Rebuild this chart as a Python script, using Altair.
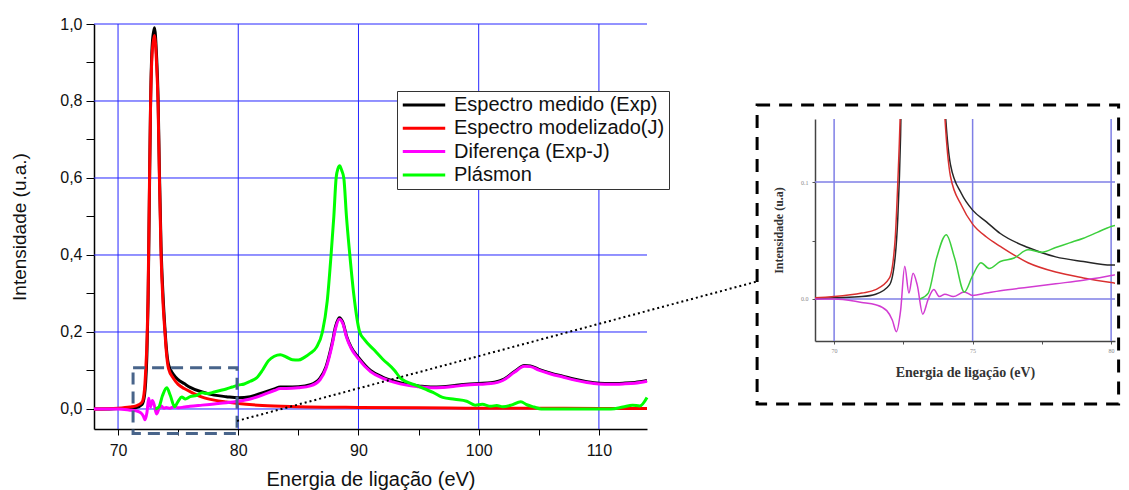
import altair as alt
import pandas as pd

# ---------------- data ----------------
series = ["Espectro medido (Exp)", "Espectro modelizado(J)", "Diferença (Exp-J)", "Plásmon"]
colors = ["#000000", "#ff0000", "#ff00ff", "#00ff00"]
inset_colors = ["#262626", "#d93030", "#d23cd2", "#3ccf3c"]

exp_x = [68, 69, 70, 71, 71.5, 72.0, 72.2, 72.3, 72.4, 72.5, 72.6, 72.7, 72.85, 73.03, 73.2, 73.33,
         73.44, 73.58, 73.75, 73.9, 74.0, 74.2, 74.6, 75.0, 75.5, 76, 77, 78, 79, 80, 81, 82, 83,
         83.5, 84, 85, 86, 86.8, 87.3, 87.8, 88.1, 88.4, 88.7, 89.0, 89.4, 90, 91, 92, 93, 94, 95,
         96, 97, 98, 99, 100, 101, 102, 103, 103.8, 104.3, 105, 106, 107, 108, 109, 110, 111, 112,
         113, 114]
exp_y = [0.0, 0.0, 0.001, 0.002, 0.004, 0.012, 0.035, 0.07, 0.14, 0.28, 0.53, 0.78, 0.95, 0.99,
         0.92, 0.81, 0.62, 0.42, 0.29, 0.21, 0.165, 0.115, 0.09, 0.076, 0.066, 0.056, 0.044, 0.036,
         0.032, 0.029, 0.032, 0.042, 0.052, 0.057, 0.057, 0.058, 0.063, 0.08, 0.11, 0.17, 0.215,
         0.237, 0.225, 0.19, 0.16, 0.134, 0.1, 0.083, 0.072, 0.064, 0.06, 0.057, 0.058, 0.061,
         0.064, 0.066, 0.068, 0.076, 0.098, 0.113, 0.112, 0.103, 0.093, 0.085, 0.077, 0.071, 0.067,
         0.066, 0.067, 0.069, 0.074]

mod_x = [68, 70, 71, 71.5, 72.0, 72.2, 72.3, 72.4, 72.5, 72.6, 72.7, 72.85, 73.03, 73.2, 73.33,
         73.44, 73.58, 73.75, 73.9, 74.0, 74.2, 74.6, 75.0, 75.5, 76, 77, 78, 79, 80, 82, 85, 90,
         95, 100, 105, 110, 114]
mod_y = [0.0, 0.002, 0.005, 0.008, 0.018, 0.05, 0.1, 0.17, 0.3, 0.55, 0.78, 0.93, 0.97, 0.9, 0.79,
         0.6, 0.4, 0.27, 0.2, 0.155, 0.105, 0.08, 0.064, 0.053, 0.045, 0.031, 0.023, 0.018, 0.014,
         0.009, 0.006, 0.004, 0.003, 0.002, 0.002, 0.001, 0.001]

dif_x = [68, 70, 71, 71.5, 71.9, 72.1, 72.25, 72.4, 72.55, 72.7, 72.85, 73.0, 73.2, 73.4, 73.6,
         73.8, 74.0, 74.3, 74.7, 75.0, 75.5, 76, 77, 78, 79, 80, 81, 82, 83, 83.5, 84, 85, 86, 86.8,
         87.3, 87.8, 88.1, 88.4, 88.7, 89.0, 89.4, 90, 91, 92, 93, 94, 95, 96, 97, 98, 99, 100, 101,
         102, 103, 103.8, 104.3, 105, 106, 107, 108, 109, 110, 111, 112, 113, 114]
dif_y = [0.0, 0.0, -0.003, -0.005, -0.01, -0.018, -0.028, -0.01, 0.028, 0.005, 0.022, 0.012,
         -0.013, 0.0, 0.008, 0.002, 0.004, 0.002, 0.006, 0.003, 0.005, 0.007, 0.01, 0.013, 0.016,
         0.02, 0.026, 0.036, 0.048, 0.053, 0.053, 0.055, 0.06, 0.076, 0.106, 0.165, 0.21, 0.233,
         0.222, 0.187, 0.157, 0.13, 0.097, 0.08, 0.069, 0.062, 0.058, 0.055, 0.056, 0.059, 0.062,
         0.064, 0.066, 0.074, 0.096, 0.111, 0.11, 0.101, 0.091, 0.083, 0.075, 0.069, 0.065, 0.064,
         0.065, 0.067, 0.072]

pla_x = [73.1, 73.4, 73.7, 74.05, 74.35, 74.7, 75.0, 75.3, 75.6, 76, 76.5, 77, 77.5, 78, 78.5, 79,
         79.5, 80, 80.5, 81, 81.5, 82, 82.5, 83, 83.5, 84, 84.5, 85, 85.5, 86, 86.5, 87.0, 87.4,
         87.72, 87.95, 88.14, 88.3, 88.44, 88.6, 88.78, 89.0, 89.28, 89.6, 90.1, 90.5, 91.25, 92,
         93, 93.5, 94.9, 95.5, 96.2, 97, 98, 99, 99.7, 100.3, 101, 101.5, 102, 102.7, 103.5, 104,
         104.6, 105.2, 111, 112, 112.8, 113.4, 114]
pla_y = [0.0, 0.005, 0.035, 0.055, 0.035, 0.006, 0.02, 0.031, 0.026, 0.032, 0.035, 0.042, 0.04,
         0.044, 0.048, 0.052, 0.057, 0.062, 0.065, 0.072, 0.08, 0.1, 0.125, 0.137, 0.141, 0.135,
         0.128, 0.127, 0.134, 0.145, 0.16, 0.2, 0.28, 0.4, 0.5, 0.6, 0.625, 0.632, 0.62, 0.6, 0.5,
         0.4, 0.3, 0.2, 0.18, 0.155, 0.13, 0.1, 0.08, 0.06, 0.052, 0.043, 0.03, 0.025, 0.02, 0.01,
         0.012, 0.007, 0.009, 0.006, 0.01, 0.019, 0.011, 0.005, 0.0, 0.0, 0.005, 0.01, 0.008, 0.03]

# main axes / grid
x_domain = [68, 114]
y_domain = [-0.052, 1.0]
x_ticks = [70, 75, 80, 85, 90, 95, 100, 105, 110]
y_ticks = [0.0, 0.1, 0.2, 0.3, 0.4, 0.5, 0.6, 0.7, 0.8, 0.9, 1.0]
grid_x = [70, 80, 90, 100, 110]
grid_y = [0.0, 0.2, 0.4, 0.6, 0.8, 1.0]

# zoom region marked on the main plot, and connector toward the inset
zoom_box = {"x0": [71.25], "x1": [79.9], "y0": [-0.064], "y1": [0.107]}
connector = {"x0": [79.9], "x1": [123.25], "y0": [-0.031], "y1": [0.332]}

# inset (zoomed view of 69.3-80.1 eV)
inset_x_domain = [69.31, 80.14]
inset_y_domain = [-0.036, 0.154]
inset_x_ticks = [70, 72.5, 75, 77.5, 80]
inset_y_ticks = [0.0, 0.05, 0.1]
inset_grid_x = [70, 75, 80]
inset_grid_y = [0.0, 0.1]
inset_frame = {"x0": [67.22], "x1": [80.27], "y0": [0.166], "y1": [-0.0899]}

# ---------------- tables ----------------
frames = []
for name, xs, ys in zip(series, [exp_x, mod_x, dif_x, pla_x], [exp_y, mod_y, dif_y, pla_y]):
    frames.append(pd.DataFrame({"serie": name, "x": xs, "y": ys}))
df = pd.concat(frames, ignore_index=True)

SANS = "Liberation Sans"
SERIF = "Liberation Serif"

# ---------------- main chart ----------------
ax_x = alt.Axis(title="Energia de ligação (eV)", values=x_ticks,
                labelExpr="datum.value % 10 == 0 ? datum.label : ''",
                grid=False, tickSize=6, tickColor="black", domainColor="black", domainWidth=1.5,
                labelFont=SANS, labelFontSize=16, labelColor="#111", labelPadding=7,
                titleFont=SANS, titleFontSize=20, titleFontWeight="normal", titleColor="#111",
                titlePadding=11)
ax_y = alt.Axis(title="Intensidade (u.a.)", values=y_ticks,
                labelExpr="round(datum.value*10) % 2 == 0 ? replace(format(datum.value, '.1f'), '.', ',') : ''",
                grid=False, tickSize=8, tickColor="black", domainColor="black", domainWidth=1.5,
                labelFont=SANS, labelFontSize=16, labelColor="#111", labelPadding=4,
                titleFont=SANS, titleFontSize=19, titleFontWeight="normal", titleColor="#111",
                titlePadding=30)
sx = alt.Scale(domain=x_domain, nice=False, zero=False)
sy = alt.Scale(domain=y_domain, nice=False, zero=False)


def X(f):
    return alt.X(f, type="quantitative", scale=sx, axis=ax_x)


def Y(f):
    return alt.Y(f, type="quantitative", scale=sy, axis=ax_y)


gx = alt.Chart(pd.DataFrame({"x": grid_x})).mark_rule(color="#2626ff", strokeWidth=1).encode(x=X("x"))
gy = alt.Chart(pd.DataFrame({"y": grid_y})).mark_rule(color="#2626ff", strokeWidth=1).encode(y=Y("y"))

lines = alt.Chart(df).mark_line(strokeWidth=3, strokeJoin="round", interpolate="monotone").encode(
    x=X("x"), y=Y("y"),
    color=alt.Color("serie:N", scale=alt.Scale(domain=series, range=colors),
                    legend=alt.Legend(title=None, orient="none", legendX=303, legendY=67,
                                      strokeColor="#333", fillColor="white", padding=4,
                                      labelFont=SANS, labelFontSize=20, labelColor="#111",
                                      symbolType="stroke", symbolStrokeWidth=3, symbolSize=1800,
                                      clipHeight=20, rowPadding=3.3, labelOffset=7,
                                      labelLimit=400)),
)

zoom_rect = alt.Chart(pd.DataFrame(zoom_box)).mark_rect(
    filled=False, stroke="#48648a", strokeWidth=3, strokeDash=[12, 7]
).encode(x=X("x0"), x2="x1", y=Y("y0"), y2="y1")

conn = alt.Chart(pd.DataFrame(connector)).mark_rule(
    color="black", strokeWidth=2, strokeDash=[2, 3]
).encode(x=X("x0"), x2="x1", y=Y("y0"), y2="y1")

main = alt.layer(gx, gy, lines, zoom_rect, conn).properties(width=553, height=405)

# ---------------- inset ----------------
isx = alt.Scale(domain=inset_x_domain, nice=False, zero=False)
isy = alt.Scale(domain=inset_y_domain, nice=False, zero=False)
iax_x = alt.Axis(title="Energia de ligação (eV)", values=inset_x_ticks,
                 labelExpr="datum.value % 5 == 0 ? format(datum.value, 'd') : ''",
                 grid=False, tickSize=3, tickColor="#555", domainColor="#444", domainWidth=1.5,
                 labelFont=SERIF, labelFontSize=6, labelColor="#888", labelPadding=3,
                 titleFont=SERIF, titleFontSize=14, titleFontWeight="bold", titleColor="#333",
                 titlePadding=12)
iax_y = alt.Axis(title="Intensidade (u.a)", values=inset_y_ticks,
                 labelExpr="datum.value == 0.05 ? '' : format(datum.value, '.1f')",
                 grid=False, tickSize=3, tickColor="#555", domainColor="#444", domainWidth=1.5,
                 labelFont=SERIF, labelFontSize=6, labelColor="#888", labelPadding=4,
                 titleFont=SERIF, titleFontSize=12, titleFontWeight="bold", titleColor="#333",
                 titlePadding=15)


def IX(f):
    return alt.X(f, type="quantitative", scale=isx, axis=iax_x)


def IY(f):
    return alt.Y(f, type="quantitative", scale=isy, axis=iax_y)


igx = alt.Chart(pd.DataFrame({"x": inset_grid_x})).mark_rule(color="#7f7fe6", strokeWidth=1.5).encode(x=IX("x"))
igy = alt.Chart(pd.DataFrame({"y": inset_grid_y})).mark_rule(color="#7f7fe6", strokeWidth=1.5).encode(y=IY("y"))
ilines = alt.Chart(df).mark_line(strokeWidth=1.5, clip=True, interpolate="monotone").encode(
    x=IX("x"), y=IY("y"),
    color=alt.Color("serie:N", scale=alt.Scale(domain=series, range=inset_colors), legend=None),
)
iframe = alt.Chart(pd.DataFrame(inset_frame)).mark_rect(
    filled=False, stroke="black", strokeWidth=3, strokeDash=[13, 9]
).encode(x=IX("x0"), x2="x1", y=IY("y0"), y2="y1")

inset = alt.layer(igx, igy, ilines, iframe).properties(width=300, height=222)

spacer = alt.Chart(pd.DataFrame({"a": [0]})).mark_point(opacity=0).encode(
    x=alt.X("a:Q", axis=None), y=alt.Y("a:Q", axis=None)
).properties(width=300, height=95)

right = alt.vconcat(spacer, inset, spacing=0, bounds="flush")

chart = alt.hconcat(main, right, spacing=168, bounds="flush").resolve_scale(
    color="independent"
).properties(
    padding={"left": 2, "top": 7, "right": 0, "bottom": 0}
).configure_view(stroke="transparent")

chart.save("out.html", embed_options={"renderer": "svg", "actions": False})
